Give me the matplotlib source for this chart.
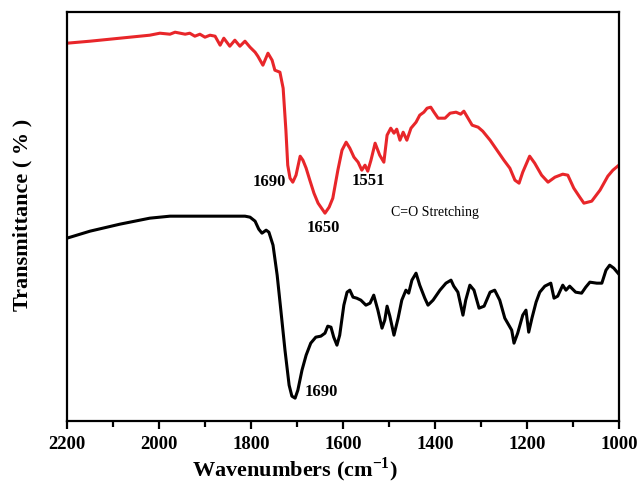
import numpy as np
import matplotlib.pyplot as plt

plt.rcParams['mathtext.fontset'] = 'custom'
plt.rcParams['mathtext.bf'] = 'Liberation Serif:bold'
plt.rcParams['mathtext.rm'] = 'Liberation Serif'

# FTIR spectra (wavenumber, transmittance in arbitrary units)
red_wn = [2200, 2150, 2085, 2020, 1998, 1976, 1965, 1943, 1933, 1922, 1911, 1900, 1889, 1878,
          1867, 1859, 1846, 1835, 1824, 1813, 1802, 1791, 1785, 1774, 1763, 1754, 1748, 1737,
          1730, 1724, 1720, 1715, 1709, 1702, 1693, 1687, 1680, 1672, 1663, 1654, 1648, 1639,
          1630, 1622, 1611, 1602, 1593, 1585, 1576, 1567, 1559, 1552, 1546, 1539, 1530, 1520,
          1511, 1504, 1496, 1489, 1483, 1476, 1469, 1461, 1452, 1441, 1433, 1424, 1417, 1409,
          1402, 1393, 1378, 1367, 1354, 1344, 1337, 1328, 1319, 1306, 1296, 1280, 1265, 1250,
          1237, 1226, 1217, 1209, 1194, 1183, 1168, 1154, 1139, 1122, 1111, 1098, 1085, 1076,
          1059, 1041, 1024, 1013, 1000]
red_t = [378, 380, 383, 386, 388, 387, 389, 387, 388, 385, 387, 384, 386, 385,
         376, 383, 375, 381, 375, 380, 374, 369, 365, 356, 368, 361, 351, 349,
         333, 291, 256, 243, 239, 246, 265, 261, 253, 241, 228, 218, 214, 208,
         214, 223, 251, 271, 279, 273, 264, 259, 251, 256, 250, 261, 278, 266,
         259, 286, 293, 288, 292, 281, 289, 281, 293, 299, 306, 309, 313, 314,
         309, 303, 303, 308, 309, 307, 310, 303, 296, 294, 290, 281, 271, 261,
         253, 241, 238, 249, 265, 258, 246, 239, 244, 247, 246, 233, 224, 218,
         220, 231, 245, 251, 256]

black_wn = [2200, 2150, 2085, 2020, 1976, 1911, 1867, 1813, 1802, 1791, 1783, 1776, 1767, 1761,
            1752, 1743, 1735, 1726, 1717, 1711, 1704, 1698, 1689, 1680, 1670, 1659, 1648, 1639,
            1633, 1626, 1620, 1613, 1607, 1598, 1591, 1585, 1578, 1570, 1561, 1550, 1541, 1533,
            1524, 1515, 1509, 1504, 1498, 1489, 1480, 1472, 1463, 1457, 1450, 1441, 1433, 1422,
            1415, 1404, 1389, 1376, 1365, 1359, 1350, 1339, 1333, 1324, 1315, 1304, 1293, 1280,
            1270, 1259, 1248, 1233, 1228, 1220, 1209, 1202, 1196, 1189, 1180, 1172, 1161, 1148,
            1141, 1133, 1122, 1115, 1107, 1094, 1081, 1072, 1063, 1048, 1037, 1028, 1020, 1011,
            1000]
black_t = [183, 190, 197, 203, 205, 205, 205, 205, 204, 200, 192, 188, 191, 189,
           176, 146, 111, 71, 36, 25, 23, 31, 51, 66, 78, 84, 85, 88,
           95, 94, 84, 76, 86, 116, 129, 131, 124, 123, 121, 116, 118, 126,
           111, 93, 101, 115, 105, 86, 103, 121, 131, 128, 141, 148, 136, 123,
           116, 121, 131, 138, 141, 135, 129, 106, 121, 136, 131, 113, 115, 129,
           131, 121, 103, 91, 78, 88, 106, 111, 89, 103, 119, 129, 135, 138,
           123, 125, 136, 131, 135, 129, 128, 134, 139, 138, 138, 151, 156, 153,
           147]

serif = ['Liberation Serif', 'DejaVu Serif']

fig = plt.figure(figsize=(6.38, 4.88), dpi=100)
ax = fig.add_axes([0.105, 0.137, 0.865, 0.838])

ax.plot(red_wn, red_t, color='#e8262a', lw=2.2, solid_joinstyle='round')
ax.plot(black_wn, black_t, color='black', lw=2.2, solid_joinstyle='round')

ax.set_xlim(2200, 1000)
ax.set_ylim(0, 409)
ax.set_xticks(np.arange(2200, 999, -200))
ax.set_xticks(np.arange(2100, 1000, -200), minor=True)
ax.set_yticks([])
ax.tick_params(axis='x', which='major', direction='out', length=6, width=1.6, pad=5)
ax.tick_params(axis='x', which='minor', direction='out', length=4, width=1.6)
for lab in ax.get_xticklabels():
    lab.set_fontfamily(serif)
    lab.set_fontweight('bold')
    lab.set_fontsize(13.5)
for sp in ax.spines.values():
    sp.set_linewidth(1.6)

# axis titles sit where the reference puts them (x title is left of centre)
fig.text(0.463, 0.024, 'Wavenumbers (cm$^{\\mathbf{-1}}$)', family=serif, fontweight='bold',
         fontsize=16, ha='center', va='baseline')
fig.text(0.035, 0.559, 'Transmittance ( % )', family=serif, fontweight='bold',
         fontsize=16, ha='center', va='center', rotation=90)

lbl = dict(family=serif, fontweight='bold', fontsize=12, ha='center', va='center')
ax.text(1759, 239, '1690', **lbl)
ax.text(1643, 193, '1650', **lbl)
ax.text(1545, 240, '1551', **lbl)
ax.text(1646, 29, '1690', **lbl)
ax.text(1400, 209, 'C=O Stretching', family=serif, fontsize=10, ha='center', va='center')

fig.savefig('out.png', dpi=100)
